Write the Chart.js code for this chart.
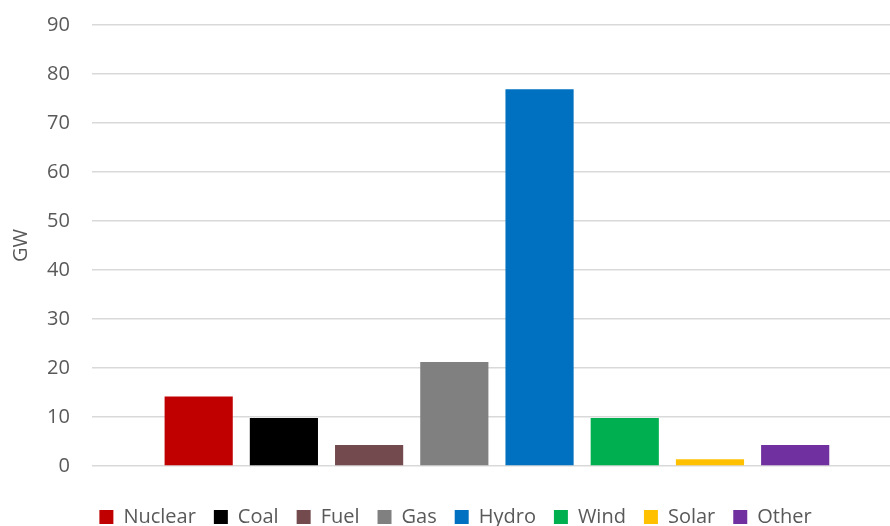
<!DOCTYPE html>
<html>
<head>
<meta charset="utf-8">
<script src="https://cdn.jsdelivr.net/npm/chart.js@4/dist/chart.umd.min.js"></script>
<style>
  html, body { margin: 0; padding: 0; background: #ffffff; overflow: hidden; }
  #wrap { position: relative; width: 912px; height: 537px; }
</style>
</head>
<body>
<div id="wrap"><canvas id="chart"></canvas></div>
<script>
// Installed capacity by source (GW)
const sources = ['Nuclear', 'Coal', 'Fuel', 'Gas', 'Hydro', 'Wind', 'Solar', 'Other'];
const capacityGW = [14.2, 9.8, 4.3, 21.2, 76.9, 9.8, 1.4, 4.3];
const sourceColors = ['#C00000', '#000000', '#734A4D', '#808080', '#0070C0', '#00B050', '#FFC000', '#7030A0'];
const yTicks = [0, 10, 20, 30, 40, 50, 60, 70, 80, 90];

const textColor = '#595959';
const gridColor = '#d9d9d9';
const fontFamily = '"Open Sans", "Liberation Sans", sans-serif';

// One dataset per source, all in a single category group
const datasets = sources.map((name, i) => ({
  label: name,
  data: [capacityGW[i]],
  backgroundColor: sourceColors[i],
  borderWidth: 0,
  categoryPercentage: 0.8415,
  barPercentage: 0.8
}));

new Chart(document.getElementById('chart'), {
  type: 'bar',
  data: { labels: [''], datasets },
  options: {
    responsive: true,
    maintainAspectRatio: false,
    animation: false,
    layout: { padding: { top: 25, left: 9, right: 10, bottom: 0 } },
    plugins: {
      tooltip: { enabled: false },
      legend: {
        position: 'bottom',
        labels: {
          boxWidth: 14,
          boxHeight: 14,
          padding: 18,
          color: textColor,
          font: { family: fontFamily, size: 20 }
        }
      }
    },
    scales: {
      x: {
        display: true,
        grid: { display: false },
        border: { display: false },
        ticks: { display: false },
        afterFit: (scale) => { scale.height = 23; }
      },
      y: {
        min: 0,
        max: 90,
        afterBuildTicks: (axis) => { axis.ticks = yTicks.map(v => ({ value: v })); },
        afterFit: (scale) => { scale.paddingTop = 0; scale.paddingBottom = 0; },
        grid: { color: gridColor, lineWidth: 1.5, drawTicks: false },
        border: { display: false },
        ticks: {
          padding: 22,
          color: textColor,
          font: { family: fontFamily, size: 20 }
        },
        title: {
          display: true,
          text: 'GW',
          color: textColor,
          font: { family: fontFamily, size: 20 },
          padding: { top: 0, bottom: -8 }
        }
      }
    }
  }
});
</script>
</body>
</html>
